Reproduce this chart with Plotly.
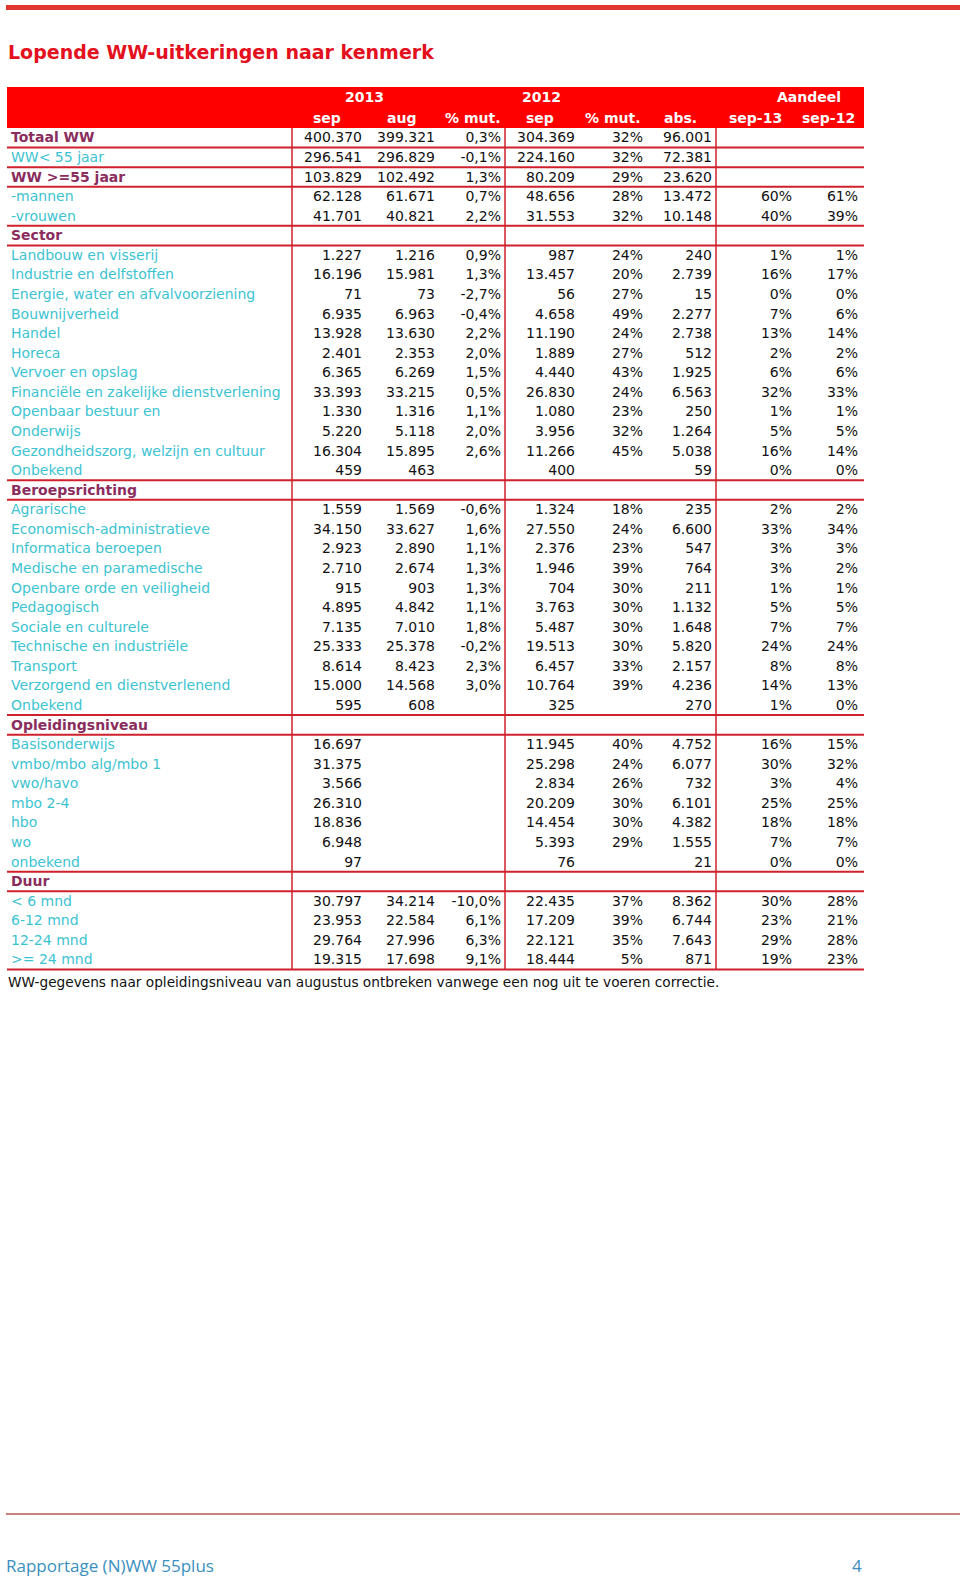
import plotly.graph_objects as go

# Data
labels = ["Totaal WW", "WW&lt; 55 jaar", "WW &gt;=55 jaar", "-mannen", "-vrouwen",
          "Sector",
          "Landbouw en visserij", "Industrie en delfstoffen", "Energie, water en afvalvoorziening",
          "Bouwnijverheid", "Handel", "Horeca", "Vervoer en opslag",
          "Financiële en zakelijke dienstverlening", "Openbaar bestuur en", "Onderwijs",
          "Gezondheidszorg, welzijn en cultuur", "Onbekend",
          "Beroepsrichting",
          "Agrarische", "Economisch-administratieve", "Informatica beroepen",
          "Medische en paramedische", "Openbare orde en veiligheid", "Pedagogisch",
          "Sociale en culturele", "Technische en industriële", "Transport",
          "Verzorgend en dienstverlenend", "Onbekend",
          "Opleidingsniveau",
          "Basisonderwijs", "vmbo/mbo alg/mbo 1", "vwo/havo", "mbo 2-4", "hbo", "wo", "onbekend",
          "Duur",
          "&lt; 6 mnd", "6-12 mnd", "12-24 mnd", "&gt;= 24 mnd"]

bold_rows = ["Totaal WW", "WW &gt;=55 jaar", "Sector", "Beroepsrichting", "Opleidingsniveau", "Duur"]

sep13 = [400370, 296541, 103829, 62128, 41701,
         None,
         1227, 16196, 71, 6935, 13928, 2401, 6365, 33393, 1330, 5220, 16304, 459,
         None,
         1559, 34150, 2923, 2710, 915, 4895, 7135, 25333, 8614, 15000, 595,
         None,
         16697, 31375, 3566, 26310, 18836, 6948, 97,
         None,
         30797, 23953, 29764, 19315]

aug13 = [399321, 296829, 102492, 61671, 40821,
         None,
         1216, 15981, 73, 6963, 13630, 2353, 6269, 33215, 1316, 5118, 15895, 463,
         None,
         1569, 33627, 2890, 2674, 903, 4842, 7010, 25378, 8423, 14568, 608,
         None,
         None, None, None, None, None, None, None,
         None,
         34214, 22584, 27996, 17698]

mut13 = [0.3, -0.1, 1.3, 0.7, 2.2,
         None,
         0.9, 1.3, -2.7, -0.4, 2.2, 2.0, 1.5, 0.5, 1.1, 2.0, 2.6, None,
         None,
         -0.6, 1.6, 1.1, 1.3, 1.3, 1.1, 1.8, -0.2, 2.3, 3.0, None,
         None,
         None, None, None, None, None, None, None,
         None,
         -10.0, 6.1, 6.3, 9.1]

sep12 = [304369, 224160, 80209, 48656, 31553,
         None,
         987, 13457, 56, 4658, 11190, 1889, 4440, 26830, 1080, 3956, 11266, 400,
         None,
         1324, 27550, 2376, 1946, 704, 3763, 5487, 19513, 6457, 10764, 325,
         None,
         11945, 25298, 2834, 20209, 14454, 5393, 76,
         None,
         22435, 17209, 22121, 18444]

mut12 = [32, 32, 29, 28, 32,
         None,
         24, 20, 27, 49, 24, 27, 43, 24, 23, 32, 45, None,
         None,
         18, 24, 23, 39, 30, 30, 30, 30, 33, 39, None,
         None,
         40, 24, 26, 30, 30, 29, None,
         None,
         37, 39, 35, 5]

abs_mut = [96001, 72381, 23620, 13472, 10148,
           None,
           240, 2739, 15, 2277, 2738, 512, 1925, 6563, 250, 1264, 5038, 59,
           None,
           235, 6600, 547, 764, 211, 1132, 1648, 5820, 2157, 4236, 270,
           None,
           4752, 6077, 732, 6101, 4382, 1555, 21,
           None,
           8362, 6744, 7643, 871]

share13 = [None, None, None, 60, 40,
           None,
           1, 16, 0, 7, 13, 2, 6, 32, 1, 5, 16, 0,
           None,
           2, 33, 3, 3, 1, 5, 7, 24, 8, 14, 1,
           None,
           16, 30, 3, 25, 18, 7, 0,
           None,
           30, 23, 29, 19]

share12 = [None, None, None, 61, 39,
           None,
           1, 17, 0, 6, 14, 2, 6, 33, 1, 5, 14, 0,
           None,
           2, 34, 3, 2, 1, 5, 7, 24, 8, 13, 0,
           None,
           15, 32, 4, 25, 18, 7, 0,
           None,
           28, 21, 28, 23]

header_top = ["2013", "2012", "Aandeel"]
header_sub = ["sep", "aug", "% mut.", "sep", "% mut.", "abs.", "sep-13", "sep-12"]

# rows followed by a horizontal rule (1-based)
rule_after = [1, 2, 3, 5, 6, 18, 19, 30, 31, 38, 39, 43]

title = "Lopende WW-uitkeringen naar kenmerk"
footnote = "WW-gegevens naar opleidingsniveau van augustus ontbreken vanwege een nog uit te voeren correctie."
footer = "Rapportage (N)WW 55plus"
page_no = "4"


def fmt_int(v):
    return "" if v is None else f"{v:,}".replace(",", ".")


def fmt_pct1(v):
    return "" if v is None else f"{v:.1f}%".replace(".", ",")


def fmt_pct0(v):
    return "" if v is None else f"{v}%"


# Layout constants (pixels)
W, H = 960, 1577
TOP = 128.0
ROW_H = 19.57
LEFT, RIGHT = 7, 864
RED = "#FF0000"
RULE = "#D0202C"
TEAL = "#3CC3D2"
PURPLE = "#8A2D5E"
FONT = "DejaVu Sans"

n = len(labels)
# text baseline sits a touch lower than the cell centre
ys = [TOP + (i + 0.5) * ROW_H + 1.2 for i in range(n)]

fig = go.Figure()

# labels
norm = [i for i in range(n) if labels[i] not in bold_rows]
bold = [i for i in range(n) if labels[i] in bold_rows]
fig.add_trace(go.Scatter(x=[11] * len(norm), y=[ys[i] for i in norm],
                         text=[labels[i] for i in norm], mode="text",
                         textposition="middle right",
                         textfont=dict(family=FONT, size=14, color=TEAL),
                         hoverinfo="skip", showlegend=False))
fig.add_trace(go.Scatter(x=[11] * len(bold), y=[ys[i] for i in bold],
                         text=[labels[i] for i in bold], mode="text",
                         textposition="middle right",
                         textfont=dict(family=FONT, size=14, color=PURPLE, weight="bold"),
                         hoverinfo="skip", showlegend=False))

# value columns, right aligned at their right edge
columns = [
    (362, [fmt_int(v) for v in sep13]),
    (435, [fmt_int(v) for v in aug13]),
    (501, [fmt_pct1(v) for v in mut13]),
    (575, [fmt_int(v) for v in sep12]),
    (643, [fmt_pct0(v) for v in mut12]),
    (712, [fmt_int(v) for v in abs_mut]),
    (792, [fmt_pct0(v) for v in share13]),
    (858, [fmt_pct0(v) for v in share12]),
]
for xr, texts in columns:
    fig.add_trace(go.Scatter(x=[xr] * n, y=ys, text=texts, mode="text",
                             textposition="middle left",
                             textfont=dict(family=FONT, size=14, color="#111111"),
                             hoverinfo="skip", showlegend=False))

shapes = []
# top page rule
shapes.append(dict(type="rect", xref="x", yref="y", x0=6, x1=960, y0=5, y1=10,
                   fillcolor="#E2362E", line=dict(width=0), layer="below"))
# header band
shapes.append(dict(type="rect", xref="x", yref="y", x0=LEFT, x1=RIGHT, y0=87, y1=TOP,
                   fillcolor=RED, line=dict(width=0), layer="below"))
# horizontal rules
for r in rule_after:
    yy = TOP + r * ROW_H
    shapes.append(dict(type="line", xref="x", yref="y", x0=LEFT, x1=RIGHT, y0=yy, y1=yy,
                       line=dict(color=RULE, width=2)))
# vertical rules
bottom = TOP + n * ROW_H
for xv in [292, 505, 716]:
    shapes.append(dict(type="line", xref="x", yref="y", x0=xv, x1=xv, y0=TOP, y1=bottom,
                       line=dict(color=RULE, width=1.5)))
# bottom page rule
shapes.append(dict(type="line", xref="x", yref="y", x0=6, x1=960, y0=1514, y1=1514,
                   line=dict(color="#C98080", width=2)))

annotations = [
    dict(x=6, y=52, text=title, xanchor="left", yanchor="middle", showarrow=False,
         font=dict(family=FONT, size=19, color="#E3101E", weight="bold")),
    dict(x=6, y=bottom + 12, text=footnote, xanchor="left", yanchor="middle", showarrow=False,
         font=dict(family=FONT, size=13.7, color="#111111")),
    dict(x=4, y=1565, text=footer, xanchor="left", yanchor="middle", showarrow=False,
         font=dict(family="Open Sans", size=17, color="#3A8FC0")),
    dict(x=857, y=1565, text=page_no, xanchor="center", yanchor="middle", showarrow=False,
         font=dict(family="Open Sans", size=17, color="#3A8FC0")),
]
for xc, t in zip([364, 541, 809], header_top):
    annotations.append(dict(x=xc, y=97, text=t, xanchor="center", yanchor="middle",
                            showarrow=False,
                            font=dict(family=FONT, size=14, color="white", weight="bold")))
for xc, t in zip([327, 401, 472, 540, 612, 680, 755, 828], header_sub):
    annotations.append(dict(x=xc, y=118, text=t, xanchor="center", yanchor="middle",
                            showarrow=False,
                            font=dict(family=FONT, size=14, color="white", weight="bold")))

fig.update_layout(
    width=W, height=H,
    margin=dict(l=0, r=0, t=0, b=0),
    paper_bgcolor="white", plot_bgcolor="white",
    xaxis=dict(range=[0, W], visible=False, fixedrange=True),
    yaxis=dict(range=[H, 0], visible=False, fixedrange=True),
    shapes=shapes, annotations=annotations,
)

fig.write_html("out.html", config={"displayModeBar": False},
               post_script="document.body.style.margin='0';")
